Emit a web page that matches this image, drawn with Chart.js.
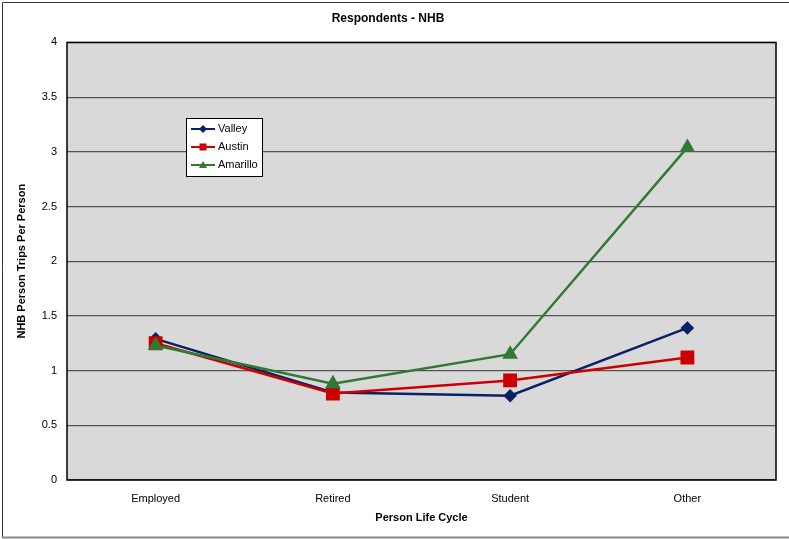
<!DOCTYPE html>
<html>
<head>
<meta charset="utf-8">
<script src="https://cdn.jsdelivr.net/npm/chart.js@4/dist/chart.umd.min.js"></script>
<style>
  html, body { margin: 0; padding: 0; background: #fff; }
  #wrap { width: 789px; height: 539px; position: relative; }
</style>
</head>
<body>
<div id="wrap"><canvas id="chart"></canvas></div>
<script>
// chart data
const categories = ['Employed', 'Retired', 'Student', 'Other'];
const valley = [1.29, 0.80, 0.77, 1.39];
const austin = [1.25, 0.79, 0.91, 1.12];
const amarillo = [1.23, 0.88, 1.15, 3.04];
const seriesNames = ['Valley', 'Austin', 'Amarillo'];

const font = "'Liberation Sans', Arial, sans-serif";

// gray plot area + outer frame
const framePlugin = {
    id: 'frame',
    beforeDraw(chart) {
        const { ctx, chartArea: a } = chart;
        ctx.save();
        ctx.fillStyle = '#d9d9d9';
        ctx.fillRect(a.left, a.top, a.right - a.left, a.bottom - a.top);
        ctx.restore();
    },
    beforeDatasetsDraw(chart) {
        const { ctx, chartArea: a } = chart;
        ctx.save();
        ctx.strokeStyle = '#000';
        ctx.lineWidth = 1.5;
        ctx.strokeRect(a.left, a.top, a.right - a.left, a.bottom - a.top);
        // outer frame
        ctx.lineWidth = 1;
        ctx.strokeStyle = '#333';
        ctx.beginPath();
        ctx.moveTo(2.5, 537);
        ctx.lineTo(2.5, 2.5);
        ctx.lineTo(789, 2.5);
        ctx.stroke();
        ctx.strokeStyle = '#888';
        ctx.lineWidth = 2;
        ctx.beginPath();
        ctx.moveTo(2, 537.5);
        ctx.lineTo(789, 537.5);
        ctx.stroke();
        ctx.restore();
    }
};

// legend box inside the plot
const legendBox = {
    id: 'legendBox',
    afterDraw(chart) {
        const { ctx } = chart;
        const x = 186, y = 118, w = 76, h = 58;
        ctx.save();
        ctx.fillStyle = '#fff';
        ctx.fillRect(x, y, w, h);
        ctx.strokeStyle = '#000';
        ctx.lineWidth = 1;
        ctx.strokeRect(x + 0.5, y + 0.5, w, h);
        ctx.font = '11px ' + font;
        ctx.textBaseline = 'middle';
        chart.data.datasets.forEach((ds, i) => {
            const cy = y + 11 + i * 18;
            ctx.strokeStyle = ds.borderColor;
            ctx.lineWidth = 2;
            ctx.beginPath();
            ctx.moveTo(x + 5, cy);
            ctx.lineTo(x + 29, cy);
            ctx.stroke();
            ctx.fillStyle = ds.borderColor;
            const mx = x + 17;
            ctx.beginPath();
            if (ds.pointStyle === 'rectRot') {
                ctx.moveTo(mx, cy - 4); ctx.lineTo(mx + 4, cy); ctx.lineTo(mx, cy + 4); ctx.lineTo(mx - 4, cy);
            } else if (ds.pointStyle === 'rect') {
                ctx.rect(mx - 3.5, cy - 3.5, 7, 7);
            } else {
                ctx.moveTo(mx, cy - 4); ctx.lineTo(mx + 4, cy + 3); ctx.lineTo(mx - 4, cy + 3);
            }
            ctx.closePath();
            ctx.fill();
            ctx.fillStyle = '#000';
            ctx.fillText(ds.label, x + 32, cy);
        });
        ctx.restore();
    }
};

new Chart(document.getElementById('chart'), {
    type: 'line',
    data: {
        labels: categories,
        datasets: [
            {
                label: seriesNames[0], data: valley, order: 3,
                borderColor: '#0a2264', backgroundColor: '#0a2264',
                pointStyle: 'rectRot', pointRadius: 5, borderWidth: 2.5
            },
            {
                label: seriesNames[1], data: austin, order: 2,
                borderColor: '#cc0000', backgroundColor: '#cc0000',
                pointStyle: 'rect', pointRadius: 8, borderWidth: 2.5
            },
            {
                label: seriesNames[2], data: amarillo, order: 1,
                borderColor: '#317a34', backgroundColor: '#317a34',
                pointStyle: 'triangle', pointRadius: 6.5, borderWidth: 2.5
            }
        ]
    },
    options: {
        responsive: true,
        maintainAspectRatio: false,
        animation: false,
        layout: { padding: { left: 0, right: 13, top: 0, bottom: 0 } },
        plugins: {
            legend: { display: false },
            tooltip: { enabled: false },
            title: {
                display: true,
                text: 'Respondents - NHB',
                color: '#000',
                font: { family: font, size: 12, weight: 'bold' },
                padding: { top: 11, bottom: 17 }
            }
        },
        scales: {
            x: {
                offset: true,
                grid: { display: false, drawTicks: false },
                border: { display: false },
                ticks: { color: '#000', font: { family: font, size: 11 }, padding: 12 },
                title: {
                    display: true, text: 'Person Life Cycle', color: '#000',
                    font: { family: font, size: 11, weight: 'bold' },
                    padding: { top: 0, bottom: 14 }
                },
                afterFit(scale) { scale.height = 59; }
            },
            y: {
                min: 0, max: 4,
                ticks: {
                    stepSize: 0.5, color: '#000', font: { family: font, size: 11 }, padding: 10,
                    callback: v => String(v)
                },
                grid: { color: '#555', lineWidth: 1.2, drawTicks: false },
                border: { display: false },
                title: {
                    display: true, text: 'NHB Person Trips Per Person', color: '#000',
                    font: { family: font, size: 11, weight: 'bold' },
                    padding: { top: 15, bottom: 0 }
                },
                afterFit(scale) { scale.width = 67; }
            }
        }
    },
    plugins: [framePlugin, legendBox]
});
</script>
</body>
</html>
